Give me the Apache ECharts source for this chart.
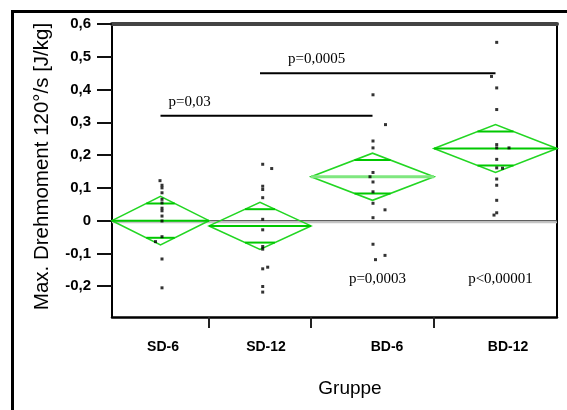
<!DOCTYPE html>
<html>
<head>
<meta charset="utf-8">
<script src="https://cdn.jsdelivr.net/npm/echarts@6/dist/echarts.min.js"></script>
<style>
  html, body { margin: 0; padding: 0; background: #fff; }
  #chart { width: 567px; height: 410px; }
</style>
</head>
<body>
<div id="chart"></div>
<script>
// ---- data -------------------------------------------------------------
const groups = ['SD-6', 'SD-12', 'BD-6', 'BD-12'];

// individual values per group (J/kg)
const valuesSD6  = [0.122, 0.108, 0.100, 0.085, 0.065, 0.054, 0.038, 0.030, 0.014, -0.001, -0.049, -0.064, -0.117, -0.205];
const valuesSD12 = [0.172, 0.159, 0.105, 0.095, 0.070, 0.004, -0.028, -0.079, -0.087, -0.142, -0.147, -0.201, -0.218];
const valuesBD6  = [0.384, 0.293, 0.243, 0.222, 0.147, 0.134, 0.118, 0.088, 0.053, 0.033, 0.009, -0.072, -0.106, -0.119];
const valuesBD12 = [0.544, 0.440, 0.405, 0.339, 0.232, 0.222, 0.222, 0.187, 0.161, 0.160, 0.127, 0.108, 0.062, 0.024, 0.017];

// group mean and half width of the 95% confidence interval (means diamonds)
const groupMeans   = [0.000, -0.016, 0.134, 0.220];
const ciHalfWidths = [0.074, 0.072, 0.072, 0.073];

// pairwise comparisons drawn as brackets
const compFrom  = ['SD-6', 'SD-12'];
const compTo    = ['BD-6', 'BD-12'];
const compLevel = [0.32, 0.45];
const compText  = ['p=0,03', 'p=0,0005'];

// p values printed below each group
const groupPText = ['', '', 'p=0,0003', 'p<0,00001'];

// y axis ticks
const yTicks = [-0.2, -0.1, 0, 0.1, 0.2, 0.3, 0.4, 0.5, 0.6];

// ---- layout -----------------------------------------------------------
// relative width of each group along the x axis
const groupSpan = [97, 102, 123, 123];
const bounds = [0];
groupSpan.forEach(w => bounds.push(bounds[bounds.length - 1] + w));
const xMax = bounds[bounds.length - 1];
const centers = groupSpan.map((w, i) => bounds[i] + w / 2);
const labelShift = [2.5, 6, 14.5, 12.5];
const labelPos = centers.map((c, i) => c + labelShift[i]);

// horizontal jitter of the points (x axis units)
const jitterSD6  = [-0.5, 1.5, 1.5, 1.5, 1.5, 1.5, 1.5, 1.5, 1.5, 1.5, 1.5, -5, 1.5, 1.5];
const jitterSD12 = [2.7, 11.7, 2.7, 2.7, 2.7, 2.7, 2.7, 2.7, 2.7, 7.7, 2.7, 2.7, 2.7];
const jitterBD6  = [0.5, 13, 0.5, 0.5, 0.5, -2.5, 0.5, 0.5, 0.5, 12.5, 0.5, 0.5, 12.5, 3];
const jitterBD12 = [1.2, -4, 1.2, 1.2, 1.2, 1.2, 13.5, 1.2, 1.2, 7, 1.2, 1.2, 1.2, 1.2, -1.5];

const groupValues = [valuesSD6, valuesSD12, valuesBD6, valuesBD12];
const groupJitter = [jitterSD6, jitterSD12, jitterBD6, jitterBD12];

const pointData = [];
groupValues.forEach((vals, g) => {
  vals.forEach((v, k) => pointData.push([centers[g] + groupJitter[g][k], v]));
});

const diamondData = groups.map((g, i) => [i, groupMeans[i], ciHalfWidths[i]]);
const compData = compFrom.map((f, i) => [groups.indexOf(f), groups.indexOf(compTo[i]), compLevel[i], i]);
const pLabelData = groupPText.map((t, i) => [centers[i] + 5, -0.178, i]).filter(d => groupPText[d[2]]);

const fmtTick = v => (Math.abs(v) < 1e-9 ? '0' : v.toFixed(1).replace('.', ','));

const chart = echarts.init(document.getElementById('chart'), null, { renderer: 'canvas' });

chart.setOption({
  animation: false,
  backgroundColor: '#fff',
  grid: { left: 112, right: 10, top: 24, bottom: 93, outerBoundsMode: 'none' },
  graphic: [{
    type: 'polyline',
    shape: { points: [[12.5, 410], [12.5, 11.5], [567, 11.5]] },
    style: { stroke: '#000', lineWidth: 3, fill: null },
    silent: true
  }],
  xAxis: [{
    type: 'value',
    min: 0,
    max: xMax,
    position: 'bottom',
    name: 'Gruppe',
    nameLocation: 'middle',
    nameGap: 62,
    nameTextStyle: { fontFamily: 'Liberation Sans', fontSize: 19, color: '#000', padding: [0, 0, 0, 31] },
    axisLine: { show: true, onZero: false, lineStyle: { color: '#000', width: 2.5 } },
    axisTick: { show: true, customValues: bounds.slice(1, -1), length: 11, lineStyle: { color: '#222', width: 2 } },
    axisLabel: {
      customValues: labelPos,
      margin: 23,
      fontFamily: 'Liberation Sans',
      fontWeight: 'bold',
      fontSize: 14,
      color: '#000',
      formatter: v => {
        const i = labelPos.findIndex(p => Math.abs(p - v) < 1e-6);
        return i >= 0 ? groups[i] : '';
      }
    },
    splitLine: { show: false }
  }, {
    type: 'value',
    min: 0,
    max: xMax,
    position: 'top',
    axisLine: { show: true, onZero: false, lineStyle: { color: '#444', width: 4 } },
    axisTick: { show: false },
    axisLabel: { show: false },
    splitLine: { show: false }
  }],
  yAxis: [{
    type: 'value',
    min: -0.294,
    max: 0.6,
    position: 'left',
    name: 'Max. Drehmoment 120°/s [J/kg]',
    nameLocation: 'middle',
    nameGap: 59,
    nameTextStyle: { fontFamily: 'Liberation Sans', fontSize: 20.5, color: '#000', padding: [0, 0, 0, 8] },
    axisLine: { show: true, onZero: false, lineStyle: { color: '#000', width: 2 } },
    axisTick: { show: true, customValues: yTicks, length: 15, lineStyle: { color: '#111', width: 2 } },
    axisLabel: {
      customValues: yTicks,
      margin: 21,
      fontFamily: 'Liberation Sans',
      fontWeight: 'bold',
      fontSize: 15,
      color: '#000',
      formatter: fmtTick
    },
    splitLine: { show: false }
  }, {
    type: 'value',
    min: -0.294,
    max: 0.6,
    position: 'right',
    axisLine: { show: true, onZero: false, lineStyle: { color: '#000', width: 2 } },
    axisTick: { show: false },
    axisLabel: { show: false },
    splitLine: { show: false }
  }],
  series: [
    {
      // zero reference line
      type: 'custom',
      z: 1,
      silent: true,
      data: [[0]],
      renderItem: (params, api) => {
        const a = api.coord([0, 0]);
        const b = api.coord([xMax, 0]);
        return {
          type: 'group',
          children: [
            { type: 'line', shape: { x1: a[0], y1: a[1] + 1.5, x2: b[0], y2: b[1] + 1.5 }, style: { stroke: '#c4c4c4', lineWidth: 2 } },
            { type: 'line', shape: { x1: a[0], y1: a[1], x2: b[0], y2: b[1] }, style: { stroke: '#444', lineWidth: 1 } }
          ]
        };
      }
    },
    {
      // means diamonds with overlap marks
      type: 'custom',
      z: 2,
      silent: true,
      data: diamondData,
      renderItem: (params, api) => {
        const i = api.value(0);
        const m = api.value(1);
        const h = api.value(2);
        const x0 = bounds[i], x1 = bounds[i + 1], xm = (x0 + x1) / 2;
        const L = api.coord([x0, m]);
        const R = api.coord([x1, m]);
        const T = api.coord([xm, m + h]);
        const B = api.coord([xm, m - h]);
        const o = h / Math.SQRT2;
        const hw = (x1 - x0) / 2 * (1 - 1 / Math.SQRT2);
        const oT1 = api.coord([xm - hw, m + o]), oT2 = api.coord([xm + hw, m + o]);
        const oB1 = api.coord([xm - hw, m - o]), oB2 = api.coord([xm + hw, m - o]);
        const meanLight = groups[i] === 'BD-6';
        const green = '#22d622';
        return {
          type: 'group',
          children: [
            { type: 'polygon', shape: { points: [L, T, R, B] }, style: { fill: null, stroke: green, lineWidth: 1.6 } },
            { type: 'line', shape: { x1: L[0], y1: L[1], x2: R[0], y2: R[1] },
              style: { stroke: meanLight ? '#7fe77f' : '#00c800', lineWidth: meanLight ? 3 : 2 } },
            { type: 'line', shape: { x1: oT1[0], y1: oT1[1], x2: oT2[0], y2: oT2[1] }, style: { stroke: '#00c800', lineWidth: 2 } },
            { type: 'line', shape: { x1: oB1[0], y1: oB1[1], x2: oB2[0], y2: oB2[1] }, style: { stroke: '#00c800', lineWidth: 2 } }
          ]
        };
      }
    },
    {
      // individual measurements
      type: 'scatter',
      z: 3,
      silent: true,
      symbol: 'rect',
      symbolSize: [3, 3],
      itemStyle: { color: '#000' },
      data: pointData
    },
    {
      // comparison brackets with p values
      type: 'custom',
      z: 4,
      silent: true,
      data: compData,
      renderItem: (params, api) => {
        const a = api.coord([centers[api.value(0)], api.value(2)]);
        const b = api.coord([centers[api.value(1)], api.value(2)]);
        const k = api.value(3);
        const textShift = [8, 28][k];
        return {
          type: 'group',
          children: [
            { type: 'line', shape: { x1: a[0], y1: a[1], x2: b[0], y2: b[1] }, style: { stroke: '#000', lineWidth: 2 } },
            { type: 'text', style: { text: compText[k], x: a[0] + textShift, y: a[1] - 14,
              font: '15px "Liberation Serif"', fill: '#000', textAlign: 'left', textVerticalAlign: 'middle' } }
          ]
        };
      }
    },
    {
      // p values below the groups
      type: 'custom',
      z: 4,
      silent: true,
      data: pLabelData,
      renderItem: (params, api) => {
        const p = api.coord([api.value(0), api.value(1)]);
        return {
          type: 'text',
          style: { text: groupPText[api.value(2)], x: p[0], y: p[1],
            font: '15px "Liberation Serif"', fill: '#000', textAlign: 'center', textVerticalAlign: 'middle' }
        };
      }
    }
  ]
});
</script>
</body>
</html>
